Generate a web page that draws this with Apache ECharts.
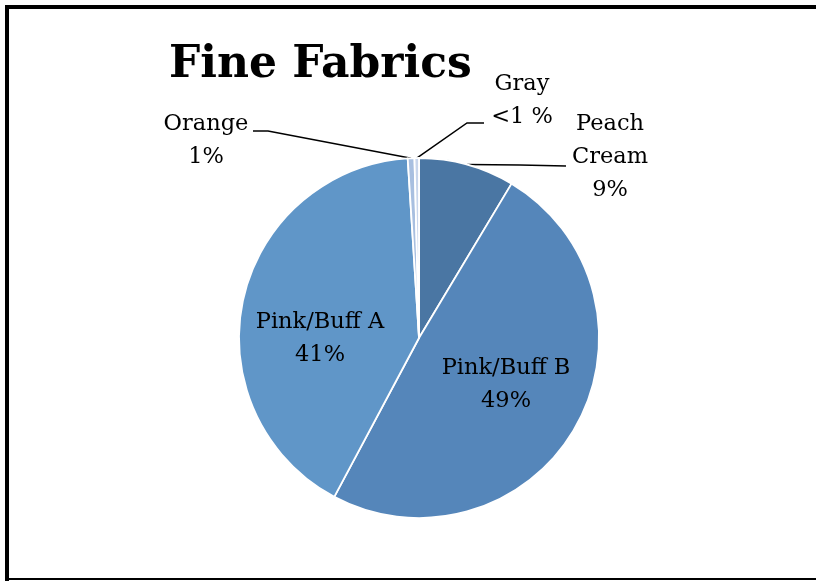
<!DOCTYPE html>
<html><head><meta charset="utf-8">
<script src="https://cdn.jsdelivr.net/npm/echarts@6/dist/echarts.min.js"></script>
<style>html,body{margin:0;padding:0;background:#fff}#c{width:816px;height:581px}</style>
</head><body><div id="c"></div>
<script>
var categories = ['Peach Cream', 'Pink/Buff B', 'Pink/Buff A', 'Orange', 'Gray'];
var values = [8.6, 49.2, 41.2, 0.6, 0.4];
var labelTexts = ['Peach\nCream\n9%', 'Pink/Buff B\n49%', 'Pink/Buff A\n41%', 'Orange\n1%', 'Gray\n<1 %'];
var colors = ['#4a76a3', '#5586ba', '#6096c8', '#a8bfe0', '#c9d6ec'];

var labelPos = [
  {x: 610, y: 157},
  {x: 506, y: 385},
  {x: 320, y: 339},
  {x: 206, y: 141},
  {x: 522, y: 101}
];
// leader line bends (elbow, end) for outside labels
var leaderBends = {
  0: [[520, 165], [566, 166]],
  3: [[268, 131], [253, 131]],
  4: [[467, 123], [484, 123]]
};

var chart = echarts.init(document.getElementById('c'), null, {renderer: 'canvas'});
var font = '"DejaVu Serif", Georgia, serif';
chart.setOption({
  backgroundColor: '#fff',
  animation: false,
  title: {
    text: 'Fine Fabrics', left: 164, top: 39,
    textStyle: {fontFamily: font, fontWeight: 'bold', fontSize: 44, color: '#000'}
  },
  graphic: [
    {type: 'line', shape: {x1: 7, y1: 7, x2: 816, y2: 7}, style: {stroke: '#000', lineWidth: 4}},
    {type: 'line', shape: {x1: 7, y1: 5, x2: 7, y2: 581}, style: {stroke: '#000', lineWidth: 4}},
    {type: 'line', shape: {x1: 6, y1: 579, x2: 816, y2: 579}, style: {stroke: '#000', lineWidth: 2}}
  ],
  series: [{
    type: 'pie',
    center: [419, 338],
    radius: 180,
    startAngle: 90,
    clockwise: true,
    avoidLabelOverlap: false,
    itemStyle: {borderColor: '#fff', borderWidth: 1.8},
    label: {
      fontFamily: font, fontSize: 22.5, color: '#000', lineHeight: 33, align: 'center',
      formatter: function (p) { return labelTexts[p.dataIndex]; }
    },
    labelLine: {show: true, lineStyle: {color: '#000', width: 1.5}, length: 20, length2: 20},
    labelLayout: function (p) {
      var pos = labelPos[p.dataIndex];
      var out = {x: pos.x, y: pos.y, align: 'center', verticalAlign: 'middle'};
      var b = leaderBends[p.dataIndex];
      if (b && p.labelLinePoints) {
        out.labelLinePoints = [p.labelLinePoints[0], b[0], b[1]];
      }
      return out;
    },
    data: categories.map(function (n, i) {
      var inside = (i === 1 || i === 2);
      return {
        name: n, value: values[i], itemStyle: {color: colors[i]},
        label: {position: inside ? 'inside' : 'outside'},
        labelLine: {show: !inside}
      };
    })
  }]
});
</script></body></html>
